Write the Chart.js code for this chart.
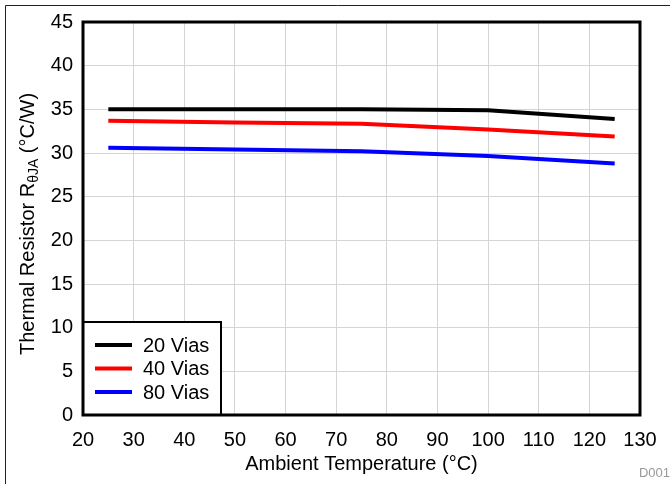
<!DOCTYPE html>
<html>
<head>
<meta charset="utf-8">
<script src="https://cdn.jsdelivr.net/npm/chart.js@4"></script>
<style>
  html, body { margin: 0; padding: 0; background: #fff; }
  #wrap { width: 670px; height: 484px; position: relative; }
</style>
</head>
<body>
<div id="wrap"><canvas id="chart" width="670" height="484"></canvas></div>
<script>
// data
const temps = [25, 50, 75, 100, 125];
const vias20 = [35.0, 35.0, 35.0, 34.9, 33.9];
const vias40 = [33.7, 33.5, 33.35, 32.7, 31.9];
const vias80 = [30.6, 30.4, 30.2, 29.65, 28.8];
const seriesNames = ['20 Vias', '40 Vias', '80 Vias'];
const seriesColors = ['#000000', '#ff0000', '#0000ff'];

const FONT = '"Liberation Sans", Arial, sans-serif';

function toPoints(ys) {
    return temps.map((t, i) => ({ x: t, y: ys[i] }));
}

// frame, legend, y title with subscript, footer tag
const extras = {
    id: 'extras',
    afterDatasetsDraw(chart) {
        const ctx = chart.ctx;
        const a = chart.chartArea;
        ctx.save();

        // legend box in lower-left corner
        const lx = a.left, ly = 322, lw = 138, lh = a.bottom - 322;
        ctx.fillStyle = '#fff';
        ctx.fillRect(lx, ly, lw, lh);
        ctx.strokeStyle = '#000';
        ctx.lineWidth = 2;
        ctx.strokeRect(lx, ly, lw, lh);
        ctx.font = '20px ' + FONT;
        ctx.textBaseline = 'middle';
        ctx.textAlign = 'left';
        chart.data.datasets.forEach((ds, i) => {
            const y = 345 + i * 23.5;
            ctx.strokeStyle = ds.borderColor;
            ctx.lineWidth = 4;
            ctx.beginPath();
            ctx.moveTo(95, y);
            ctx.lineTo(132, y);
            ctx.stroke();
            ctx.fillStyle = '#000';
            ctx.fillText(ds.label, 143, y + 1);
        });

        // plot frame
        ctx.strokeStyle = '#000';
        ctx.lineWidth = 3;
        ctx.strokeRect(a.left, a.top, a.right - a.left, a.bottom - a.top);

        // thin outer border (top and left visible)
        ctx.lineWidth = 1;
        ctx.strokeStyle = '#222';
        ctx.beginPath();
        ctx.moveTo(5.5, 484);
        ctx.lineTo(5.5, 5.5);
        ctx.lineTo(670, 5.5);
        ctx.stroke();

        // y axis title with subscript
        ctx.translate(27, 224);
        ctx.rotate(-Math.PI / 2);
        ctx.fillStyle = '#000';
        ctx.textBaseline = 'alphabetic';
        ctx.textAlign = 'left';
        const p1 = 'Thermal Resistor R', sub = '\u03b8JA', p2 = ' (\u00b0C/W)';
        ctx.font = '20px ' + FONT;
        const w1 = ctx.measureText(p1).width, w3 = ctx.measureText(p2).width;
        ctx.font = '14px ' + FONT;
        const w2 = ctx.measureText(sub).width;
        let x = -(w1 + w2 + w3) / 2;
        ctx.font = '20px ' + FONT;
        ctx.fillText(p1, x, 7);
        x += w1;
        ctx.font = '14px ' + FONT;
        ctx.fillText(sub, x, 11);
        x += w2;
        ctx.font = '20px ' + FONT;
        ctx.fillText(p2, x, 7);
        ctx.setTransform(1, 0, 0, 1, 0, 0);

        // document tag
        ctx.font = '13px ' + FONT;
        ctx.fillStyle = '#999';
        ctx.textAlign = 'right';
        ctx.fillText('D001', 670, 477);
        ctx.restore();
    }
};

new Chart(document.getElementById('chart'), {
    type: 'line',
    data: {
        datasets: [vias20, vias40, vias80].map((ys, i) => ({
            label: seriesNames[i],
            data: toPoints(ys),
            borderColor: seriesColors[i],
            backgroundColor: seriesColors[i],
            borderWidth: 4,
            pointRadius: 0,
            tension: 0,
            fill: false
        }))
    },
    options: {
        responsive: false,
        animation: false,
        layout: { padding: { left: 0, right: 30, top: 20, bottom: 0 } },
        plugins: { legend: { display: false }, tooltip: { enabled: false } },
        scales: {
            x: {
                type: 'linear',
                min: 20, max: 130,
                afterFit(s) { s.height = 69; },
                ticks: { stepSize: 10, color: '#000', padding: 13, font: { family: FONT, size: 20 }, maxRotation: 0 },
                grid: { color: '#d4d4d4', lineWidth: 1, drawTicks: false },
                border: { display: false },
                title: { display: true, text: 'Ambient Temperature (\u00b0C)', color: '#000', font: { family: FONT, size: 20 }, padding: { top: 0, bottom: 8 } }
            },
            y: {
                min: 0, max: 45,
                afterFit(s) { s.width = 83; },
                ticks: { stepSize: 5, color: '#000', padding: 10, font: { family: FONT, size: 20 } },
                grid: { color: '#d4d4d4', lineWidth: 1, drawTicks: false },
                border: { display: false }
            }
        }
    },
    plugins: [extras]
});
</script>
</body>
</html>
